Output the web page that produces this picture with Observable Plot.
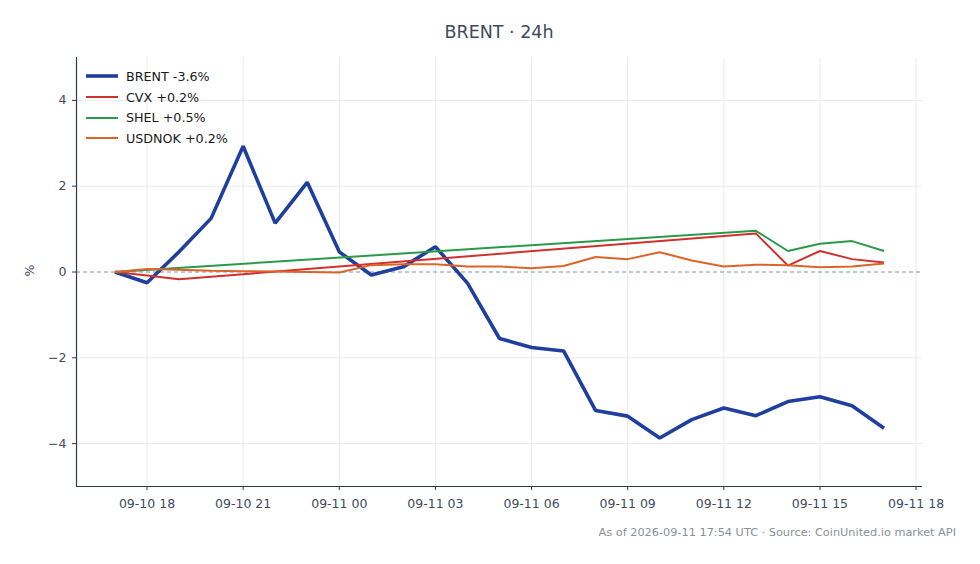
<!DOCTYPE html>
<html>
<head>
<meta charset="utf-8">
<script src="https://cdn.jsdelivr.net/npm/d3@7"></script>
<script src="https://cdn.jsdelivr.net/npm/@observablehq/plot@0.6"></script>
<style>
  html, body { margin: 0; padding: 0; background: #fff; }
  #wrap { position: relative; width: 980px; height: 564px; font-family: "DejaVu Sans", sans-serif; }
  #chart { position: absolute; left: 0; top: 0; }
  .ov { position: absolute; white-space: nowrap; }
  #title { left: 0; width: 998px; top: 22px; text-align: center; font-size: 17.5px; color: #3d4b5c; }
  #caption { right: 24px; top: 526px; font-size: 11.3px; color: #8a9099; }
  #ylabel { left: 24px; top: 263px; font-size: 12.5px; color: #3d4b5c; transform: rotate(-90deg); }
  #legend { left: 86px; top: 66px; font-size: 12.7px; color: #1a1a1a; }
  .row { display: flex; align-items: center; height: 20.7px; }
  .row svg { margin-right: 8px; }
</style>
</head>
<body>
<div id="wrap">
  <div id="chart"></div>
  <div id="title" class="ov">BRENT · 24h</div>
  <div id="ylabel" class="ov">%</div>
  <div id="legend" class="ov"></div>
  <div id="caption" class="ov">As of 2026-09-11 17:54 UTC · Source: CoinUnited.io market API</div>
</div>
<script>
// Hourly timestamps (UTC)
const times = [
  "2026-09-10T17:00Z","2026-09-10T18:00Z","2026-09-10T19:00Z","2026-09-10T20:00Z","2026-09-10T21:00Z",
  "2026-09-10T22:00Z","2026-09-10T23:00Z","2026-09-11T00:00Z","2026-09-11T01:00Z","2026-09-11T02:00Z",
  "2026-09-11T03:00Z","2026-09-11T04:00Z","2026-09-11T05:00Z","2026-09-11T06:00Z","2026-09-11T07:00Z",
  "2026-09-11T08:00Z","2026-09-11T09:00Z","2026-09-11T10:00Z","2026-09-11T11:00Z","2026-09-11T12:00Z",
  "2026-09-11T13:00Z","2026-09-11T14:00Z","2026-09-11T15:00Z","2026-09-11T16:00Z","2026-09-11T17:00Z"
];
const brent  = [0, -0.25, 0.47, 1.25, 2.93, 1.14, 2.09, 0.47, -0.07, 0.12, 0.59, -0.26, -1.55, -1.76, -1.84, -3.23, -3.36, -3.87, -3.44, -3.17, -3.35, -3.02, -2.91, -3.12, -3.64];
const usdnok = [0, 0.07, 0.05, 0.03, 0.02, 0.01, 0.0, -0.01, 0.16, 0.18, 0.18, 0.13, 0.13, 0.09, 0.14, 0.35, 0.30, 0.46, 0.27, 0.13, 0.17, 0.16, 0.11, 0.13, 0.20];
const cvxTimes = ["2026-09-10T17:00Z","2026-09-10T18:00Z","2026-09-10T19:00Z","2026-09-11T13:00Z","2026-09-11T14:00Z","2026-09-11T15:00Z","2026-09-11T16:00Z","2026-09-11T17:00Z"];
const cvx      = [0, -0.08, -0.17, 0.90, 0.15, 0.49, 0.30, 0.22];
const shelTimes = ["2026-09-10T17:00Z","2026-09-11T13:00Z","2026-09-11T14:00Z","2026-09-11T15:00Z","2026-09-11T16:00Z","2026-09-11T17:00Z"];
const shel      = [0, 0.96, 0.49, 0.66, 0.72, 0.49];

const seriesNames  = ["BRENT", "CVX", "SHEL", "USDNOK"];
const seriesLabels = ["BRENT -3.6%", "CVX +0.2%", "SHEL +0.5%", "USDNOK +0.2%"];
const seriesColors = ["#1f3f9f", "#d0312d", "#2a9a48", "#dd6428"];
const seriesWidths = [3.6, 2, 2, 2];

const xTicks = ["2026-09-10T18:00Z","2026-09-10T21:00Z","2026-09-11T00:00Z","2026-09-11T03:00Z","2026-09-11T06:00Z","2026-09-11T09:00Z","2026-09-11T12:00Z","2026-09-11T15:00Z","2026-09-11T18:00Z"];
const yTicks = [-4, -2, 0, 2, 4];
const xDomain = ["2026-09-10T15:48Z", "2026-09-11T18:12Z"];
const yDomain = [-5, 5];

const toRows = (ts, vs) => ts.map((t, i) => ({t: new Date(t), v: vs[i]}));
const rows = {
  BRENT: toRows(times, brent),
  CVX: toRows(cvxTimes, cvx),
  SHEL: toRows(shelTimes, shel),
  USDNOK: toRows(times, usdnok)
};
const xT = xTicks.map(d => new Date(d));
const xD = xDomain.map(d => new Date(d));

const gridC = "#e8ebef";
const spineC = "#2f3b4b";

const order = ["BRENT", "CVX", "SHEL", "USDNOK"];
const lineMarks = order.map(name => {
  const i = seriesNames.indexOf(name);
  return Plot.line(rows[name], {x: "t", y: "v", stroke: seriesColors[i], strokeWidth: seriesWidths[i], strokeLinejoin: "miter", strokeLinecap: "butt"});
});

const chart = Plot.plot({
  width: 980,
  height: 564,
  marginLeft: 76,
  marginRight: 58,
  marginTop: 57,
  marginBottom: 78,
  style: {fontFamily: "DejaVu Sans, sans-serif", fontSize: "12.5px", color: "#3d4b5c", background: "white", overflow: "visible"},
  x: {type: "utc", domain: xD},
  y: {domain: yDomain},
  marks: [
    Plot.gridX(xT, {stroke: gridC, strokeOpacity: 1}),
    Plot.gridY(yTicks.filter(d => d !== 0), {stroke: gridC, strokeOpacity: 1}),
    Plot.ruleY([0], {stroke: "#8093a8", strokeWidth: 1, strokeDasharray: "4,3"}),
    ...lineMarks,
    Plot.ruleY([yDomain[0]], {stroke: spineC, strokeWidth: 1.2}),
    Plot.ruleX([xD[0]], {stroke: spineC, strokeWidth: 1.2}),
    Plot.axisX(xT, {tickFormat: d3.utcFormat("%m-%d %H"), tickSize: 4, tickPadding: 9, stroke: spineC, label: null, fontSize: 12.5}),
    Plot.axisY(yTicks, {tickFormat: d3.format(""), tickSize: 4, tickPadding: 6, stroke: spineC, label: null, fontSize: 12.5})
  ]
});
document.getElementById("chart").appendChild(chart);

// legend
const leg = document.getElementById("legend");
seriesNames.forEach((name, i) => {
  const row = document.createElement("div");
  row.className = "row";
  row.innerHTML = `<svg width="32" height="8"><line x1="0" x2="32" y1="4" y2="4" stroke="${seriesColors[i]}" stroke-width="${seriesWidths[i]}"/></svg><span>${seriesLabels[i]}</span>`;
  leg.appendChild(row);
});
</script>
</body>
</html>
